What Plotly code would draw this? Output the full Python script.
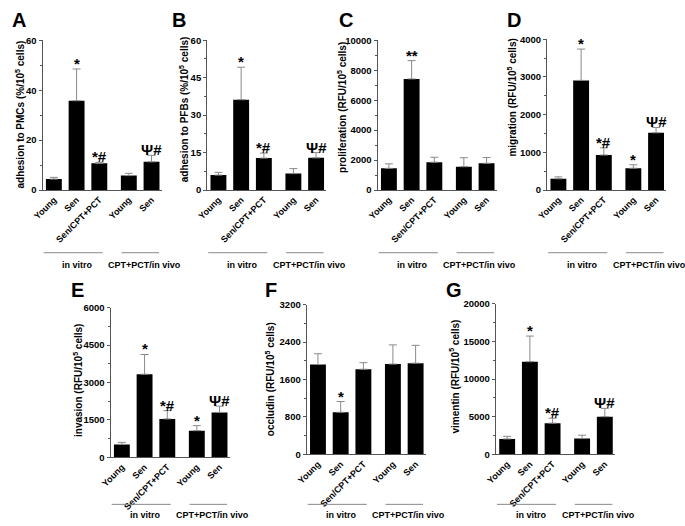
import plotly.graph_objects as go

W, H = 685, 526

categories = ["Young", "Sen", "Sen/CPT+PCT", "Young", "Sen"]
group_names = ["in vitro", "CPT+PCT/in vivo"]

adhesion_pmc = [4.4, 35.8, 10.7, 5.8, 11.3]
adhesion_pmc_err = [0.7, 12.7, 0.4, 0.9, 2.6]
adhesion_pfb = [6.0, 36.2, 12.8, 6.6, 12.9]
adhesion_pfb_err = [1.1, 13.0, 2.0, 2.0, 2.1]
proliferation = [1450, 7420, 1860, 1560, 1790]
proliferation_err = [300, 1220, 330, 600, 380]
migration = [300, 2910, 930, 580, 1520]
migration_err = [50, 830, 190, 90, 140]
invasion = [520, 3330, 1540, 1070, 1800]
invasion_err = [80, 790, 330, 200, 250]
occludin = [1920, 900, 1820, 1930, 1950]
occludin_err = [230, 230, 140, 410, 380]
vimentin = [2050, 12300, 4150, 2100, 5000]
vimentin_err = [350, 3400, 650, 450, 1100]

marks_A = ["", "*", "*#", "", "Ψ#"]
marks_B = ["", "*", "*#", "", "Ψ#"]
marks_C = ["", "**", "", "", ""]
marks_D = ["", "*", "*#", "*", "Ψ#"]
marks_E = ["", "*", "*#", "*", "Ψ#"]
marks_F = ["", "*", "", "", ""]
marks_G = ["", "*", "*#", "", "Ψ#"]

# layout helpers
xpos = [0, 1, 2, 3.3, 4.3]
XR = [-0.5, 4.75]
FONT = "Liberation Sans, Arial, sans-serif"

def px(x):
    return x / W

def py(y):
    return 1 - y / H

panels = [
    dict(letter="A", v=adhesion_pmc, e=adhesion_pmc_err, m=marks_A, ymax=60, dt=20,
         title="adhesion to PMCs (%/10<sup>5</sup> cells)",
         dx=(33, 154), dy=(35, 188), lp=(9, 14), tp=(10, 111), gy=(252, 265)),
    dict(letter="B", v=adhesion_pfb, e=adhesion_pfb_err, m=marks_B, ymax=60, dt=15,
         title="adhesion to PFBs (%/10<sup>5</sup> cells)",
         dx=(200, 321), dy=(35, 188), lp=(171, 14), tp=(176, 105), gy=(252, 265)),
    dict(letter="C", v=proliferation, e=proliferation_err, m=marks_C, ymax=10000, dt=2000,
         title="proliferation (RFU/10<sup>5</sup> cells)",
         dx=(373, 494), dy=(35, 188), lp=(341, 14), tp=(337, 104), gy=(252, 265)),
    dict(letter="D", v=migration, e=migration_err, m=marks_D, ymax=4000, dt=1000,
         title="migration (RFU/10<sup>5</sup> cells)",
         dx=(545, 666), dy=(34, 188), lp=(511, 14), tp=(509, 94), gy=(252, 265)),
    dict(letter="E", v=invasion, e=invasion_err, m=marks_E, ymax=6000, dt=1500,
         title="invasion (RFU/10<sup>5</sup> cells)",
         dx=(102, 223), dy=(308, 461), lp=(68, 290), tp=(69, 382), gy=(509, 520)),
    dict(letter="F", v=occludin, e=occludin_err, m=marks_F, ymax=3200, dt=800,
         title="occludin (RFU/10<sup>5</sup> cells)",
         dx=(301, 422), dy=(305, 458), lp=(265, 290), tp=(264, 381), gy=(509, 520)),
    dict(letter="G", v=vimentin, e=vimentin_err, m=marks_G, ymax=20000, dt=5000,
         title="vimentin (RFU/10<sup>5</sup> cells)",
         dx=(493, 614), dy=(304, 458), lp=(451, 290), tp=(451, 378), gy=(509, 520)),
]

fig = go.Figure()
annotations = []
shapes = []
layout = {}

for i, p in enumerate(panels):
    n = i + 1
    xa = "x" if n == 1 else f"x{n}"
    ya = "y" if n == 1 else f"y{n}"
    xkey = "xaxis" if n == 1 else f"xaxis{n}"
    ykey = "yaxis" if n == 1 else f"yaxis{n}"

    fig.add_trace(go.Bar(
        x=xpos, y=p["v"], xaxis=xa, yaxis=ya, width=0.7,
        marker=dict(color="black", line=dict(width=0)),
        error_y=dict(type="data", symmetric=False, array=p["e"],
                     arrayminus=[0] * len(p["e"]), color="#8a8a8a",
                     thickness=1, width=4),
        showlegend=False, hoverinfo="skip",
    ))

    layout[xkey] = dict(
        domain=[px(p["dx"][0]), px(p["dx"][1])], range=XR, anchor=ya,
        tickvals=xpos, ticktext=categories, tickangle=-45,
        tickfont=dict(family=FONT, size=9, color="black", weight="bold"),
        showline=True, linecolor="#555", linewidth=1, ticks="",
        showgrid=False, zeroline=False, fixedrange=True,
    )
    layout[ykey] = dict(
        domain=[py(p["dy"][1]), py(p["dy"][0])], range=[0, p["ymax"]], anchor=xa,
        tick0=0, dtick=p["dt"], tickformat="d", ticks="outside", ticklen=3, tickwidth=1,
        tickcolor="#555",
        minor=dict(ticks="outside", ticklen=2, dtick=p["dt"] / 2, tickcolor="#555"),
        tickfont=dict(family=FONT, size=9.5, color="black", weight="bold"),
        showline=True, linecolor="#555", linewidth=1,
        showgrid=False, zeroline=False, fixedrange=True,
    )

    # significance marks
    for xv, v, e, mk in zip(xpos, p["v"], p["e"], p["m"]):
        if mk:
            annotations.append(dict(
                x=xv, y=v + e, xref=xa, yref=ya, text=mk, showarrow=False,
                yanchor="bottom", yshift=-5,
                font=dict(family=FONT, size=15, color="black", weight="bold"),
            ))

    # panel letter
    annotations.append(dict(
        x=px(p["lp"][0]), y=py(p["lp"][1]), xref="paper", yref="paper",
        text=p["letter"], showarrow=False, xanchor="center", yanchor="middle",
        font=dict(family=FONT, size=20, color="black", weight="bold"),
    ))
    # y title
    annotations.append(dict(
        x=px(p["tp"][0]), y=py(p["tp"][1]), xref="paper", yref="paper",
        text=p["title"], showarrow=False, textangle=-90,
        xanchor="center", yanchor="middle",
        font=dict(family=FONT, size=10, color="black", weight="bold"),
    ))
    # group lines and labels
    for (x0, x1), xc, name in zip([(-0.45, 2.15), (2.98, 4.63)], [1.05, 4.0], group_names):
        shapes.append(dict(type="line", xref=xa, yref="paper",
                           x0=x0, x1=x1, y0=py(p["gy"][0]), y1=py(p["gy"][0]),
                           line=dict(color="#888", width=1)))
        annotations.append(dict(
            x=xc, y=py(p["gy"][1]), xref=xa, yref="paper", text=name,
            showarrow=False, xanchor="center", yanchor="middle",
            font=dict(family=FONT, size=9, color="black", weight="bold"),
        ))

fig.update_layout(
    width=W, height=H, margin=dict(l=0, r=0, t=0, b=0),
    paper_bgcolor="white", plot_bgcolor="white",
    annotations=annotations, shapes=shapes, bargap=0.3,
    **layout,
)

fig.write_html("out.html", config={"displayModeBar": False},
               post_script="document.body.style.margin='0';")
